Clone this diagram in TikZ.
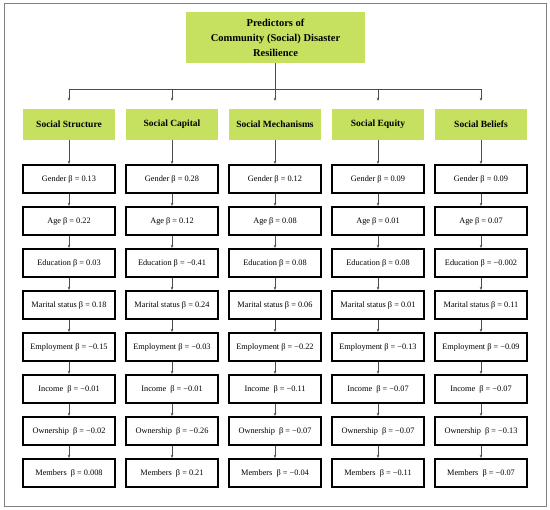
\documentclass[tikz,border=0pt]{standalone}
\usepackage{fontspec}
\setmainfont{Liberation Serif}
\usepackage{tikz}
\usetikzlibrary{positioning,arrows.meta}
\definecolor{leafgreen}{RGB}{197,225,95}

\begin{document}
\begin{tikzpicture}[x=1pt,y=-1pt,
  title/.style={fill=leafgreen, minimum width=179pt, minimum height=51pt, align=center, font=\fontsize{10.5}{15}\selectfont\bfseries},
  group/.style={fill=leafgreen, minimum width=92pt, minimum height=31pt, font=\fontsize{9.5}{11}\selectfont\bfseries},
  item/.style={draw, line width=1.8pt, minimum width=92.5pt, minimum height=28.5pt, inner sep=1pt, font=\fontsize{8.3}{10}\selectfont},
  wire/.style={draw=black!70, line width=0.6pt},
  link/.style={wire, -{Stealth[length=3pt,width=2.6pt]}}]
\useasboundingbox (0,0) rectangle (550,510);
\draw[black!50, line width=0.8pt] (4,3) rectangle (546,506);

% top and group boxes
\node[title] (top) at (275.5,37.5) {Predictors of\\Community (Social) Disaster\\Resilience};
\foreach \name [count=\c] in {Social Structure, Social Capital, Social Mechanisms, Social Equity, Social Beliefs}
  \node[group] (g\c) at ({69+103*(\c-1)},124.5) {\name};
\coordinate (bus) at (275.5,89);

% predictor boxes, one column per group
\foreach \lab/\val [count=\r] in {Gender/0.13, Age/0.22, Education/0.03, Marital status/0.18, Employment/−0.15, Income\ /−0.01, Ownership\ /−0.02, Members\ /0.008}
  \node[item] (b1-\r) at (69,{137+42*\r}) {\lab\ β = \val};
\foreach \lab/\val [count=\r] in {Gender/0.28, Age/0.12, Education/−0.41, Marital status/0.24, Employment/−0.03, Income\ /−0.01, Ownership\ /−0.26, Members\ /0.21}
  \node[item] (b2-\r) at (172,{137+42*\r}) {\lab\ β = \val};
\foreach \lab/\val [count=\r] in {Gender/0.12, Age/0.08, Education/0.08, Marital status/0.06, Employment/−0.22, Income\ /−0.11, Ownership\ /−0.07, Members\ /−0.04}
  \node[item] (b3-\r) at (275,{137+42*\r}) {\lab\ β = \val};
\foreach \lab/\val [count=\r] in {Gender/0.09, Age/0.01, Education/0.08, Marital status/0.01, Employment/−0.13, Income\ /−0.07, Ownership\ /−0.07, Members\ /−0.11}
  \node[item] (b4-\r) at (378,{137+42*\r}) {\lab\ β = \val};
\foreach \lab/\val [count=\r] in {Gender/0.09, Age/0.07, Education/−0.002, Marital status/0.11, Employment/−0.09, Income\ /−0.07, Ownership\ /−0.13, Members\ /−0.07}
  \node[item] (b5-\r) at (481,{137+42*\r}) {\lab\ β = \val};

% connectors
\draw[wire] (top.south) -- (bus);
\draw[wire] (g1 |- bus) -- (g5 |- bus);
\foreach \c in {1,...,5} {
  \draw[link, shorten >=8pt] (g\c |- bus) -- (g\c.north);
  \draw[link] (g\c) -- (b\c-1);
  \foreach \r in {1,...,7} {
    \pgfmathtruncatemacro\n{\r+1}
    \draw[link] (b\c-\r) -- (b\c-\n);
  }
}
\end{tikzpicture}
\end{document}
